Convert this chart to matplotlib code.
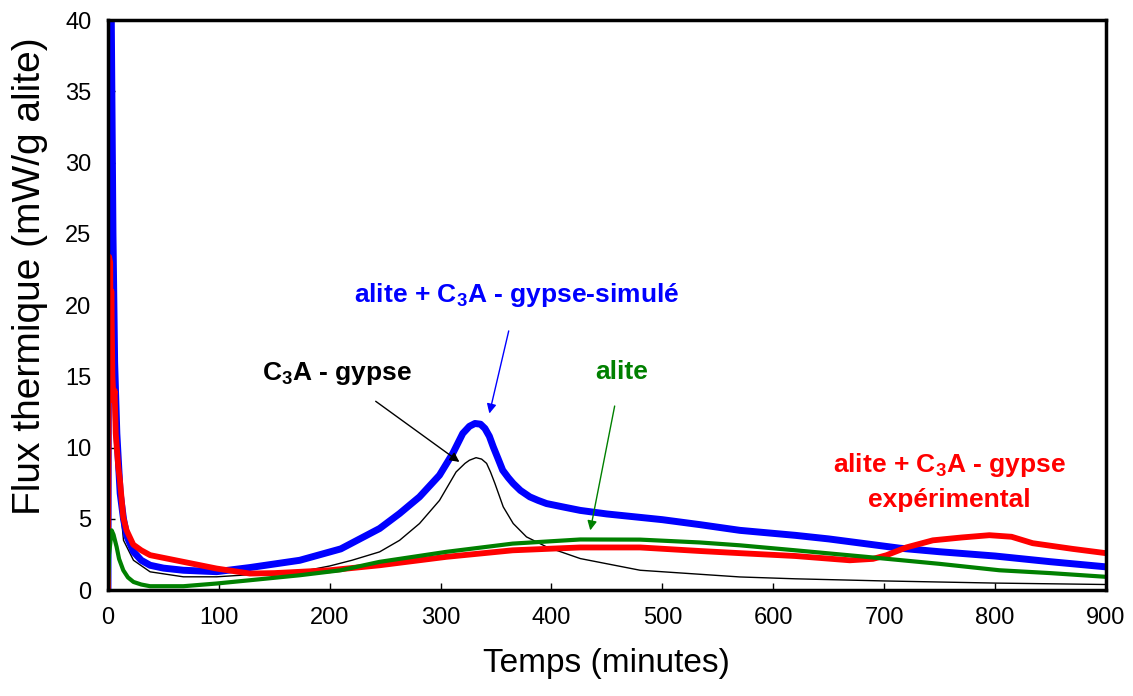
import matplotlib
matplotlib.use("Agg")
import matplotlib.pyplot as plt
import numpy as np

plt.rcParams['font.family'] = ['Liberation Sans', 'DejaVu Sans']
plt.rcParams['mathtext.fontset'] = 'custom'
plt.rcParams['mathtext.rm'] = 'Liberation Sans:bold'
plt.rcParams['mathtext.it'] = 'Liberation Sans:bold'
plt.rcParams['mathtext.bf'] = 'Liberation Sans:bold'

# alite + C3A - gypse simulé (bleu)
t_sim = [0, 1, 3, 4.5, 6, 8, 11, 14, 17, 23, 30, 38, 50, 68, 98, 128, 173, 210,
         245, 263, 281, 299, 311, 320, 326, 331, 336, 340, 344, 347.5, 352, 356,
         361, 365.5, 372, 380.5, 388, 395.6, 410, 426, 450, 500, 534, 570, 620,
         650, 714, 750, 800, 850, 900]
q_sim = [0, 45, 40, 25, 16, 11, 6.8, 5.0, 3.8, 2.7, 2.1, 1.75, 1.55, 1.4, 1.3,
         1.59, 2.1, 2.9, 4.33, 5.38, 6.55, 8.07, 9.6, 11.0, 11.5, 11.7, 11.65,
         11.35, 10.8, 10.06, 9.2, 8.42, 7.9, 7.49, 7.0, 6.55, 6.3, 6.08, 5.85,
         5.6, 5.35, 4.95, 4.6, 4.2, 3.85, 3.6, 2.95, 2.7, 2.4, 2.0, 1.64]

# C3A - gypse (noir)
t_c3a = [0, 1, 3, 5, 8, 11, 14, 23, 38, 68, 98, 130, 173, 200, 220, 245, 263, 281,
         299, 314, 322, 326, 332, 337, 341.5, 345, 349, 356.5, 365.5, 377.5, 395.6,
         426, 480, 570, 620, 700, 800, 900]
q_c3a = [0, 40, 35, 22, 11, 6, 3.5, 2.1, 1.29, 0.94, 0.94, 1.1, 1.29, 1.7, 2.1,
         2.69, 3.5, 4.68, 6.3, 8.3, 8.9, 9.12, 9.3, 9.2, 8.9, 8.3, 7.49, 5.85,
         4.68, 3.74, 3.04, 2.22, 1.4, 0.93, 0.8, 0.65, 0.5, 0.4]

# alite (vert)
t_alite = [0, 1, 3.3, 5, 7.8, 10, 13.8, 18, 23, 30, 38, 68, 98, 128, 173, 210, 245,
           305, 365, 426, 480, 534, 570, 620, 684, 750, 804, 850, 900]
q_alite = [0, 2.5, 4.2, 3.9, 3.04, 2.2, 1.4, 0.9, 0.58, 0.4, 0.28, 0.28, 0.47,
           0.7, 1.05, 1.4, 1.99, 2.69, 3.27, 3.56, 3.55, 3.35, 3.15, 2.8, 2.34,
           1.85, 1.4, 1.2, 0.94]

# alite + C3A - gypse expérimental (rouge)
t_exp = [0, 1, 2, 2.5, 3, 4, 5, 6, 7, 9.3, 10.8, 13.8, 16.8, 22.8, 30, 38, 68, 98,
         128, 150, 173, 200, 245, 305, 365, 426, 480, 534, 570, 620, 669, 690, 702,
         720, 744, 770, 795, 815, 834, 870, 900]
q_exp = [0, 23.4, 23, 16, 21, 15, 13.3, 14, 11, 8.65, 7.7, 5.1, 4.2, 3.2, 2.8, 2.46,
         1.99, 1.52, 1.17, 1.2, 1.29, 1.4, 1.75, 2.34, 2.8, 3.0, 3.0, 2.75, 2.6,
         2.4, 2.1, 2.2, 2.45, 3.0, 3.5, 3.7, 3.86, 3.75, 3.3, 2.9, 2.6]

fig = plt.figure(figsize=(11.33, 6.96), dpi=100)
ax = fig.add_axes([0.0953, 0.152, 0.8807, 0.819])

ax.plot(t_c3a, q_c3a, color='black', lw=1.0)
ax.plot(t_sim, q_sim, color='#0000ff', lw=5.0, solid_joinstyle='round')
ax.plot(t_exp, q_exp, color='#ff0000', lw=4.2, solid_joinstyle='round')
ax.plot(t_alite, q_alite, color='#008000', lw=3.0, solid_joinstyle='round')

ax.set_xlim(0, 900)
ax.set_ylim(0, 40)
ax.set_xticks(np.arange(0, 901, 100))
ax.set_yticks(np.arange(0, 41, 5))
ax.tick_params(direction='in', length=5, width=1, labelsize=17, pad=12)
for s in ax.spines.values():
    s.set_linewidth(2.5)

ax.set_xlabel('Temps (minutes)', fontsize=24, labelpad=14)
ax.set_ylabel('Flux thermique (mW/g alite)', fontsize=28)
ax.yaxis.set_label_coords(-0.060, 0.551)

ax.annotate(r'alite + C$_3$A - gypse-simulé', xy=(344, 12.4), xytext=(369, 20.7),
            color='#0000ff', fontsize=19, fontweight='bold', ha='center', va='center',
            arrowprops=dict(arrowstyle='-|>', color='#0000ff', lw=1.0,
                            shrinkA=14, shrinkB=0, mutation_scale=14))
ax.annotate(r'C$_3$A - gypse', xy=(317, 9.0), xytext=(207, 15.2),
            color='black', fontsize=19, fontweight='bold', ha='center', va='center',
            arrowprops=dict(arrowstyle='-|>', color='black', lw=1.0,
                            shrinkA=14, shrinkB=0, mutation_scale=14))
ax.annotate('alite', xy=(435, 4.2), xytext=(463, 15.3),
            color='#008000', fontsize=19, fontweight='bold', ha='center', va='center',
            arrowprops=dict(arrowstyle='-|>', color='#008000', lw=1.0,
                            shrinkA=14, shrinkB=0, mutation_scale=14))
ax.text(759, 8.8, r'alite + C$_3$A - gypse', color='#ff0000', fontsize=19,
        fontweight='bold', ha='center', va='center')
ax.text(759, 6.3, 'expérimental', color='#ff0000', fontsize=19,
        fontweight='bold', ha='center', va='center')

fig.savefig('out.png', dpi=100)
